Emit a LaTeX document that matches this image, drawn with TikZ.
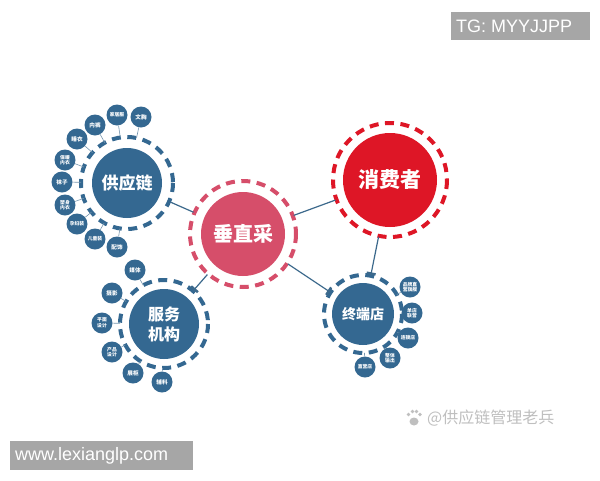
\documentclass[tikz,border=0pt]{standalone}
\usepackage{fontspec}
\newfontfamily\cjk{Noto Sans CJK SC}
\newcommand\cjkb{\cjk\bfseries}
\setmainfont{Liberation Sans}
\usetikzlibrary{calc,arrows.meta}
\definecolor{cblue}{RGB}{52,104,145}
\definecolor{cpink}{RGB}{214,78,106}
\definecolor{cred}{RGB}{222,22,38}
\definecolor{cline}{RGB}{60,105,140}
\definecolor{wm}{RGB}{166,166,166}
\tikzset{
  x=1pt,y=-1pt,
  mainbox/.style={circle,inner sep=0pt,text=white,font=\cjkb,align=center},
  ringline/.style={line width=4pt,dash pattern=on 9pt off 6.5pt},
  satbox/.style={circle,fill=cblue,minimum size=21pt,inner sep=0pt,text=white,font=\cjkb\fontsize{5.6}{6}\selectfont,align=center},
  satsmall/.style={font=\cjkb\fontsize{4.8}{5.4}\selectfont},
  satlink/.style={draw=cline!70,line width=0.6pt},
  link/.style={draw=cline,line width=1.2pt},
  wmbox/.style={text=white,font=\fontsize{18}{21}\selectfont,inner sep=0pt,anchor=west}
}
\begin{document}
\begin{tikzpicture}
\useasboundingbox (0,0) rectangle (600,480);
\fill[white] (0,0) rectangle (600,480);
% main nodes
\node[mainbox,fill=cblue,minimum size=70pt,font=\cjkb\fontsize{17}{20}\selectfont] (gy) at (127,183) {供应链};
\node[mainbox,fill=cpink,minimum size=84pt,font=\cjkb\fontsize{20}{22}\selectfont] (cz) at (243,234) {垂直采};
\node[mainbox,fill=cred,minimum size=94pt,font=\cjkb\fontsize{21}{24}\selectfont] (xf) at (390,180) {消费者};
\node[mainbox,fill=cblue,minimum size=70pt,font=\cjkb\fontsize{16}{20}\selectfont] (fw) at (164,324) {服务\\机构};
\node[mainbox,fill=cblue,minimum size=62pt,font=\cjkb\fontsize{14}{16}\selectfont] (zd) at (363,314) {终端店};
% dashed rings
\draw[ringline,draw=cblue] (gy.center) circle (46);
\draw[ringline,draw=cpink] (cz.center) circle (53);
\draw[ringline,draw=cred] (xf.center) circle (57);
\draw[ringline,draw=cblue] (fw.center) circle (44);
\draw[ringline,draw=cblue] (zd.center) circle (39);
% main links
\draw[link] ($(gy.center)!47pt!(cz.center)$) -- ($(cz.center)!54pt!(gy.center)$);
\draw[link] ($(cz.center)!54pt!(xf.center)$) -- ($(xf.center)!58pt!(cz.center)$);
\draw[link,-{Bar[width=9pt,line width=2.5pt]}] ($(cz.center)!54pt!(fw.center)$) -- ($(fw.center)!45pt!(cz.center)$);
\draw[link,-{Bar[width=9pt,line width=2.5pt]}] ($(cz.center)!54pt!(zd.center)$) -- ($(zd.center)!40pt!(cz.center)$);
\draw[link,-{Bar[width=9pt,line width=2.5pt]}] ($(xf.center)!58pt!(zd.center)$) -- ($(zd.center)!40pt!(xf.center)$);
% satellites of 供应链
\foreach \n/\px/\py/\t/\s in {g1/141/117/文胸/, g2/117/115/家居服/satsmall, g3/95/125/内裤/, g4/77/139/睡衣/, g5/65/160/保暖\\内衣/satsmall, g6/62/182/袜子/, g7/65/205/塑身\\内衣/satsmall, g8/77/224/孕妇装/satsmall, g9/95/239/儿童装/satsmall, g10/117/247/配饰/}{
  \node[satbox,\s] (\n) at (\px,\py) {\t};
  \draw[satlink] (\n) -- ($(gy.center)!46pt!(\n.center)$);
}
% satellites of 服务机构
\foreach \n/\px/\py/\t/\s in {f1/135/270/媒体/, f2/112/293/摄影/, f3/102/323/平面\\设计/satsmall, f4/112/352/产品\\设计/satsmall, f5/133/373/展柜/, f6/162/382/辅料/}{
  \node[satbox,\s] (\n) at (\px,\py) {\t};
  \draw[satlink] (\n) -- ($(fw.center)!44pt!(\n.center)$);
}
% satellites of 终端店
\foreach \n/\px/\py/\t/\s in {z1/410/287/品牌直\\营旗舰/satsmall, z2/412/313/单店\\联营/satsmall, z3/408/338/连锁店/satsmall, z4/390/358/整体\\输出/satsmall, z5/365/367/直营店/satsmall}{
  \node[satbox,\s] (\n) at (\px,\py) {\t};
  \draw[satlink] (\n) -- ($(zd.center)!39pt!(\n.center)$);
}
% watermarks
\fill[wm] (451,12) rectangle (590,40);
\node[wmbox] (tg) at (456,26) {TG: MYYJJPP};
\fill[wm] (10,441) rectangle (193,470);
\node[wmbox] (url) at (15,455.5) {www.lexianglp.com};
\node[anchor=west,text=black!25,font=\cjk\fontsize{16}{18}\selectfont,inner sep=0pt] (bd) at (427,418) {@供应链管理老兵};
\begin{scope}[black!25]
\fill (414,421.5) ellipse (4.5 and 4);
\fill (408.5,414.5) circle (1.9);
\fill (412.5,411.5) circle (1.9);
\fill (416.5,411.5) circle (1.9);
\fill (420,414.5) circle (1.9);
\end{scope}
\end{tikzpicture}
\end{document}
